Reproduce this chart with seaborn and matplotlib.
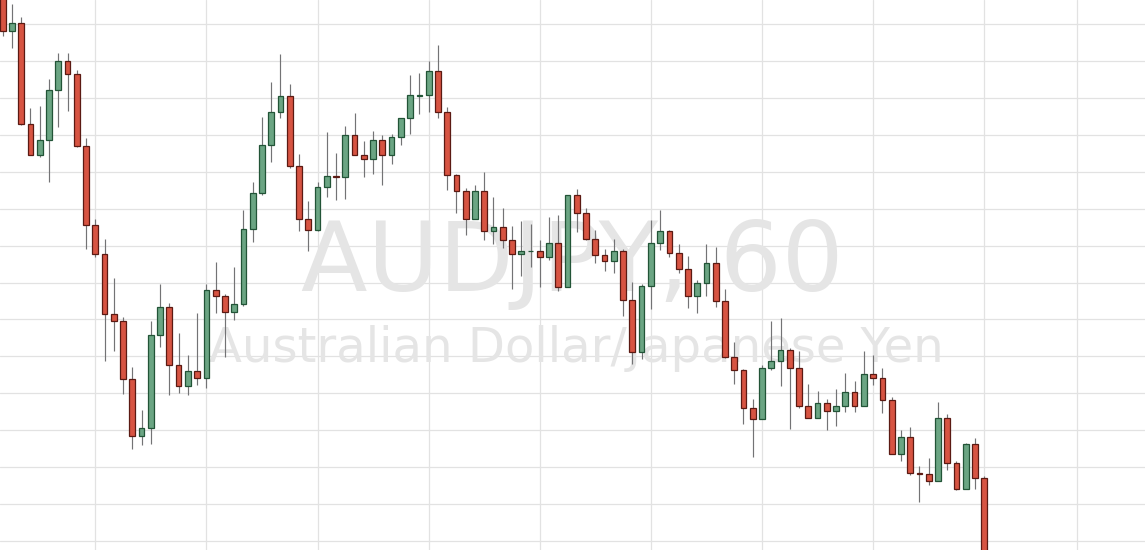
import numpy as np
import pandas as pd
import matplotlib
matplotlib.use("Agg")
import matplotlib.pyplot as plt
import seaborn as sns

# ---- data (AUDJPY, 60 min candles) ----
opens = [86.10, 85.693, 85.77, 84.76, 84.447, 84.60, 85.103, 85.39, 85.257, 84.543,
         83.753, 83.46, 82.86, 82.793, 82.207, 81.643, 81.72, 82.653, 82.927, 82.347,
         82.14, 82.29, 82.223, 83.097, 83.043, 82.88, 82.957, 83.707, 84.067, 84.553,
         84.883, 85.037, 84.343, 83.81, 83.697, 84.133, 84.237, 84.23, 84.647, 84.447,
         84.41, 84.60, 84.447, 84.627, 84.817, 85.043, 85.053, 85.293, 84.883, 84.247,
         84.093, 83.807, 84.087, 83.687, 83.727, 83.603, 83.46, 83.487, 83.487, 83.43,
         83.573, 83.127, 84.05, 83.867, 83.61, 83.45, 83.393, 83.487, 83.003, 82.48,
         83.137, 83.573, 83.687, 83.47, 83.307, 83.043, 83.173, 83.373, 82.993, 82.433,
         82.30, 81.92, 81.807, 82.32, 82.387, 82.50, 82.32, 81.94, 81.817, 81.967,
         81.893, 81.94, 82.083, 81.94, 82.263, 82.223, 81.997, 81.463, 81.627, 81.273,
         81.263, 81.19, 81.817, 81.37, 81.113, 81.56, 81.217]
highs = [86.15, 85.96, 85.827, 84.917, 84.943, 85.21, 85.467, 85.467, 85.297, 84.623,
         83.813, 83.613, 83.217, 82.833, 82.333, 81.903, 82.787, 83.16, 82.97, 82.673,
         82.447, 82.873, 83.16, 83.377, 83.063, 83.33, 83.90, 84.177, 84.83, 85.183,
         85.457, 85.163, 84.46, 83.993, 84.183, 84.68, 84.47, 84.737, 84.87, 84.593,
         84.69, 84.65, 84.657, 84.817, 85.25, 85.267, 85.393, 85.553, 84.927, 84.263,
         84.117, 84.147, 84.28, 84.033, 83.92, 83.737, 83.787, 83.757, 83.60, 83.833,
         83.853, 84.05, 84.11, 83.92, 83.70, 83.51, 83.613, 83.51, 83.177, 83.16,
         83.803, 83.90, 83.70, 83.557, 83.443, 83.197, 83.557, 83.53, 83.11, 82.58,
         82.313, 82.01, 82.347, 82.787, 82.817, 82.523, 82.493, 82.16, 82.093, 82.013,
         82.113, 82.267, 82.19, 82.493, 82.447, 82.323, 82.027, 81.70, 81.733, 81.343,
         81.42, 81.98, 81.857, 81.39, 81.57, 81.62, 81.24]
lows = [85.643, 85.517, 84.75, 84.447, 84.427, 84.183, 84.73, 84.89, 84.53, 83.513,
        83.427, 82.393, 82.487, 82.06, 81.51, 81.547, 81.557, 82.527, 82.05, 82.07,
        82.05, 82.153, 82.117, 82.873, 82.43, 82.80, 82.937, 83.58, 84.047, 84.377,
        84.817, 84.32, 83.693, 83.493, 83.687, 84.033, 83.997, 84.007, 84.447, 84.227,
        84.257, 84.15, 84.36, 84.55, 84.663, 84.863, 84.883, 84.823, 84.10, 83.873,
        83.647, 83.807, 83.60, 83.56, 83.523, 83.113, 83.237, 83.333, 83.133, 83.40,
        83.087, 83.127, 83.677, 83.60, 83.37, 83.293, 83.267, 82.84, 82.363, 82.41,
        82.913, 83.50, 83.427, 83.267, 82.923, 82.867, 83.04, 82.933, 82.423, 82.163,
        81.757, 81.433, 81.807, 82.30, 82.137, 81.707, 81.92, 81.817, 81.817, 81.70,
        81.737, 81.88, 81.88, 81.94, 82.153, 81.87, 81.463, 81.393, 81.247, 80.977,
        81.147, 81.19, 81.30, 81.10, 81.113, 81.113, 80.35]
closes = [85.693, 85.77, 84.76, 84.447, 84.60, 85.103, 85.39, 85.257, 84.543, 83.753,
          83.46, 82.86, 82.793, 82.207, 81.643, 81.72, 82.653, 82.927, 82.347, 82.14,
          82.29, 82.223, 83.097, 83.043, 82.88, 82.957, 83.707, 84.067, 84.553, 84.883,
          85.037, 84.343, 83.81, 83.697, 84.133, 84.24, 84.23, 84.647, 84.447, 84.41,
          84.60, 84.447, 84.627, 84.817, 85.047, 85.053, 85.293, 84.883, 84.247, 84.093,
          83.807, 84.087, 83.687, 83.727, 83.603, 83.46, 83.487, 83.49, 83.43, 83.573,
          83.127, 84.05, 83.867, 83.61, 83.45, 83.393, 83.487, 83.003, 82.48, 83.137,
          83.573, 83.687, 83.47, 83.307, 83.043, 83.173, 83.373, 82.993, 82.433, 82.30,
          81.92, 81.807, 82.32, 82.387, 82.50, 82.32, 81.94, 81.817, 81.967, 81.893,
          81.94, 82.083, 81.94, 82.263, 82.223, 81.997, 81.463, 81.627, 81.273, 81.263,
          81.19, 81.817, 81.37, 81.113, 81.56, 81.217, 80.40]

symbol = "AUDJPY, 60"
description = "Australian Dollar/Japanese Yen"

# ---- styling ----
UP, DOWN = "#6ba583", "#d75442"
UP_EDGE, DOWN_EDGE = "#225437", "#5b1a13"
WICK = "#737375"
GRID = "#e2e2e2"

sns.set_theme(style="white")
plt.rcParams["font.family"] = ["DejaVu Sans"]

df = pd.DataFrame({"open": opens, "high": highs, "low": lows, "close": closes})
df["idx"] = np.arange(len(df))
df["up"] = df["close"] >= df["open"]

fig = plt.figure(figsize=(11.45, 5.5), dpi=100)
ax = fig.add_axes([0, 0, 1, 1])
ax.set_facecolor("white")

# grid
ygrid = 85.76 - 0.3693 * np.arange(0, 15)
xgrid = list(range(10, 107, 12)) + [116]
for y in ygrid:
    ax.axhline(y, color=GRID, lw=0.9, zorder=0)
for x in xgrid:
    ax.axvline(x, color=GRID, lw=0.9, zorder=0)

# watermark
ax.text(0.4996, 0.4715, symbol, transform=ax.transAxes, ha="center", va="baseline",
        fontsize=70, color="#e5e5e5", zorder=1)
ax.text(0.5035, 0.3424, description, transform=ax.transAxes, ha="center", va="baseline",
        fontsize=34.7, color="#e5e5e5", zorder=1)

# wicks
ax.vlines(df["idx"], df["low"], df["high"], color=WICK, lw=0.85, zorder=2)

# bodies
bottoms = np.minimum(df["open"], df["close"])
heights = np.maximum(np.abs(df["close"] - df["open"]), 0.004)
ax.bar(df["idx"], heights, bottom=bottoms, width=0.62,
       color=np.where(df["up"], UP, DOWN),
       edgecolor=np.where(df["up"], UP_EDGE, DOWN_EDGE),
       linewidth=0.9, zorder=3)

ax.set_xlim(-0.29, 123.36)
ax.set_ylim(80.50, 86.00)
ax.set_xticks([])
ax.set_yticks([])
for s in ax.spines.values():
    s.set_visible(False)

fig.savefig("out.png", dpi=100)
